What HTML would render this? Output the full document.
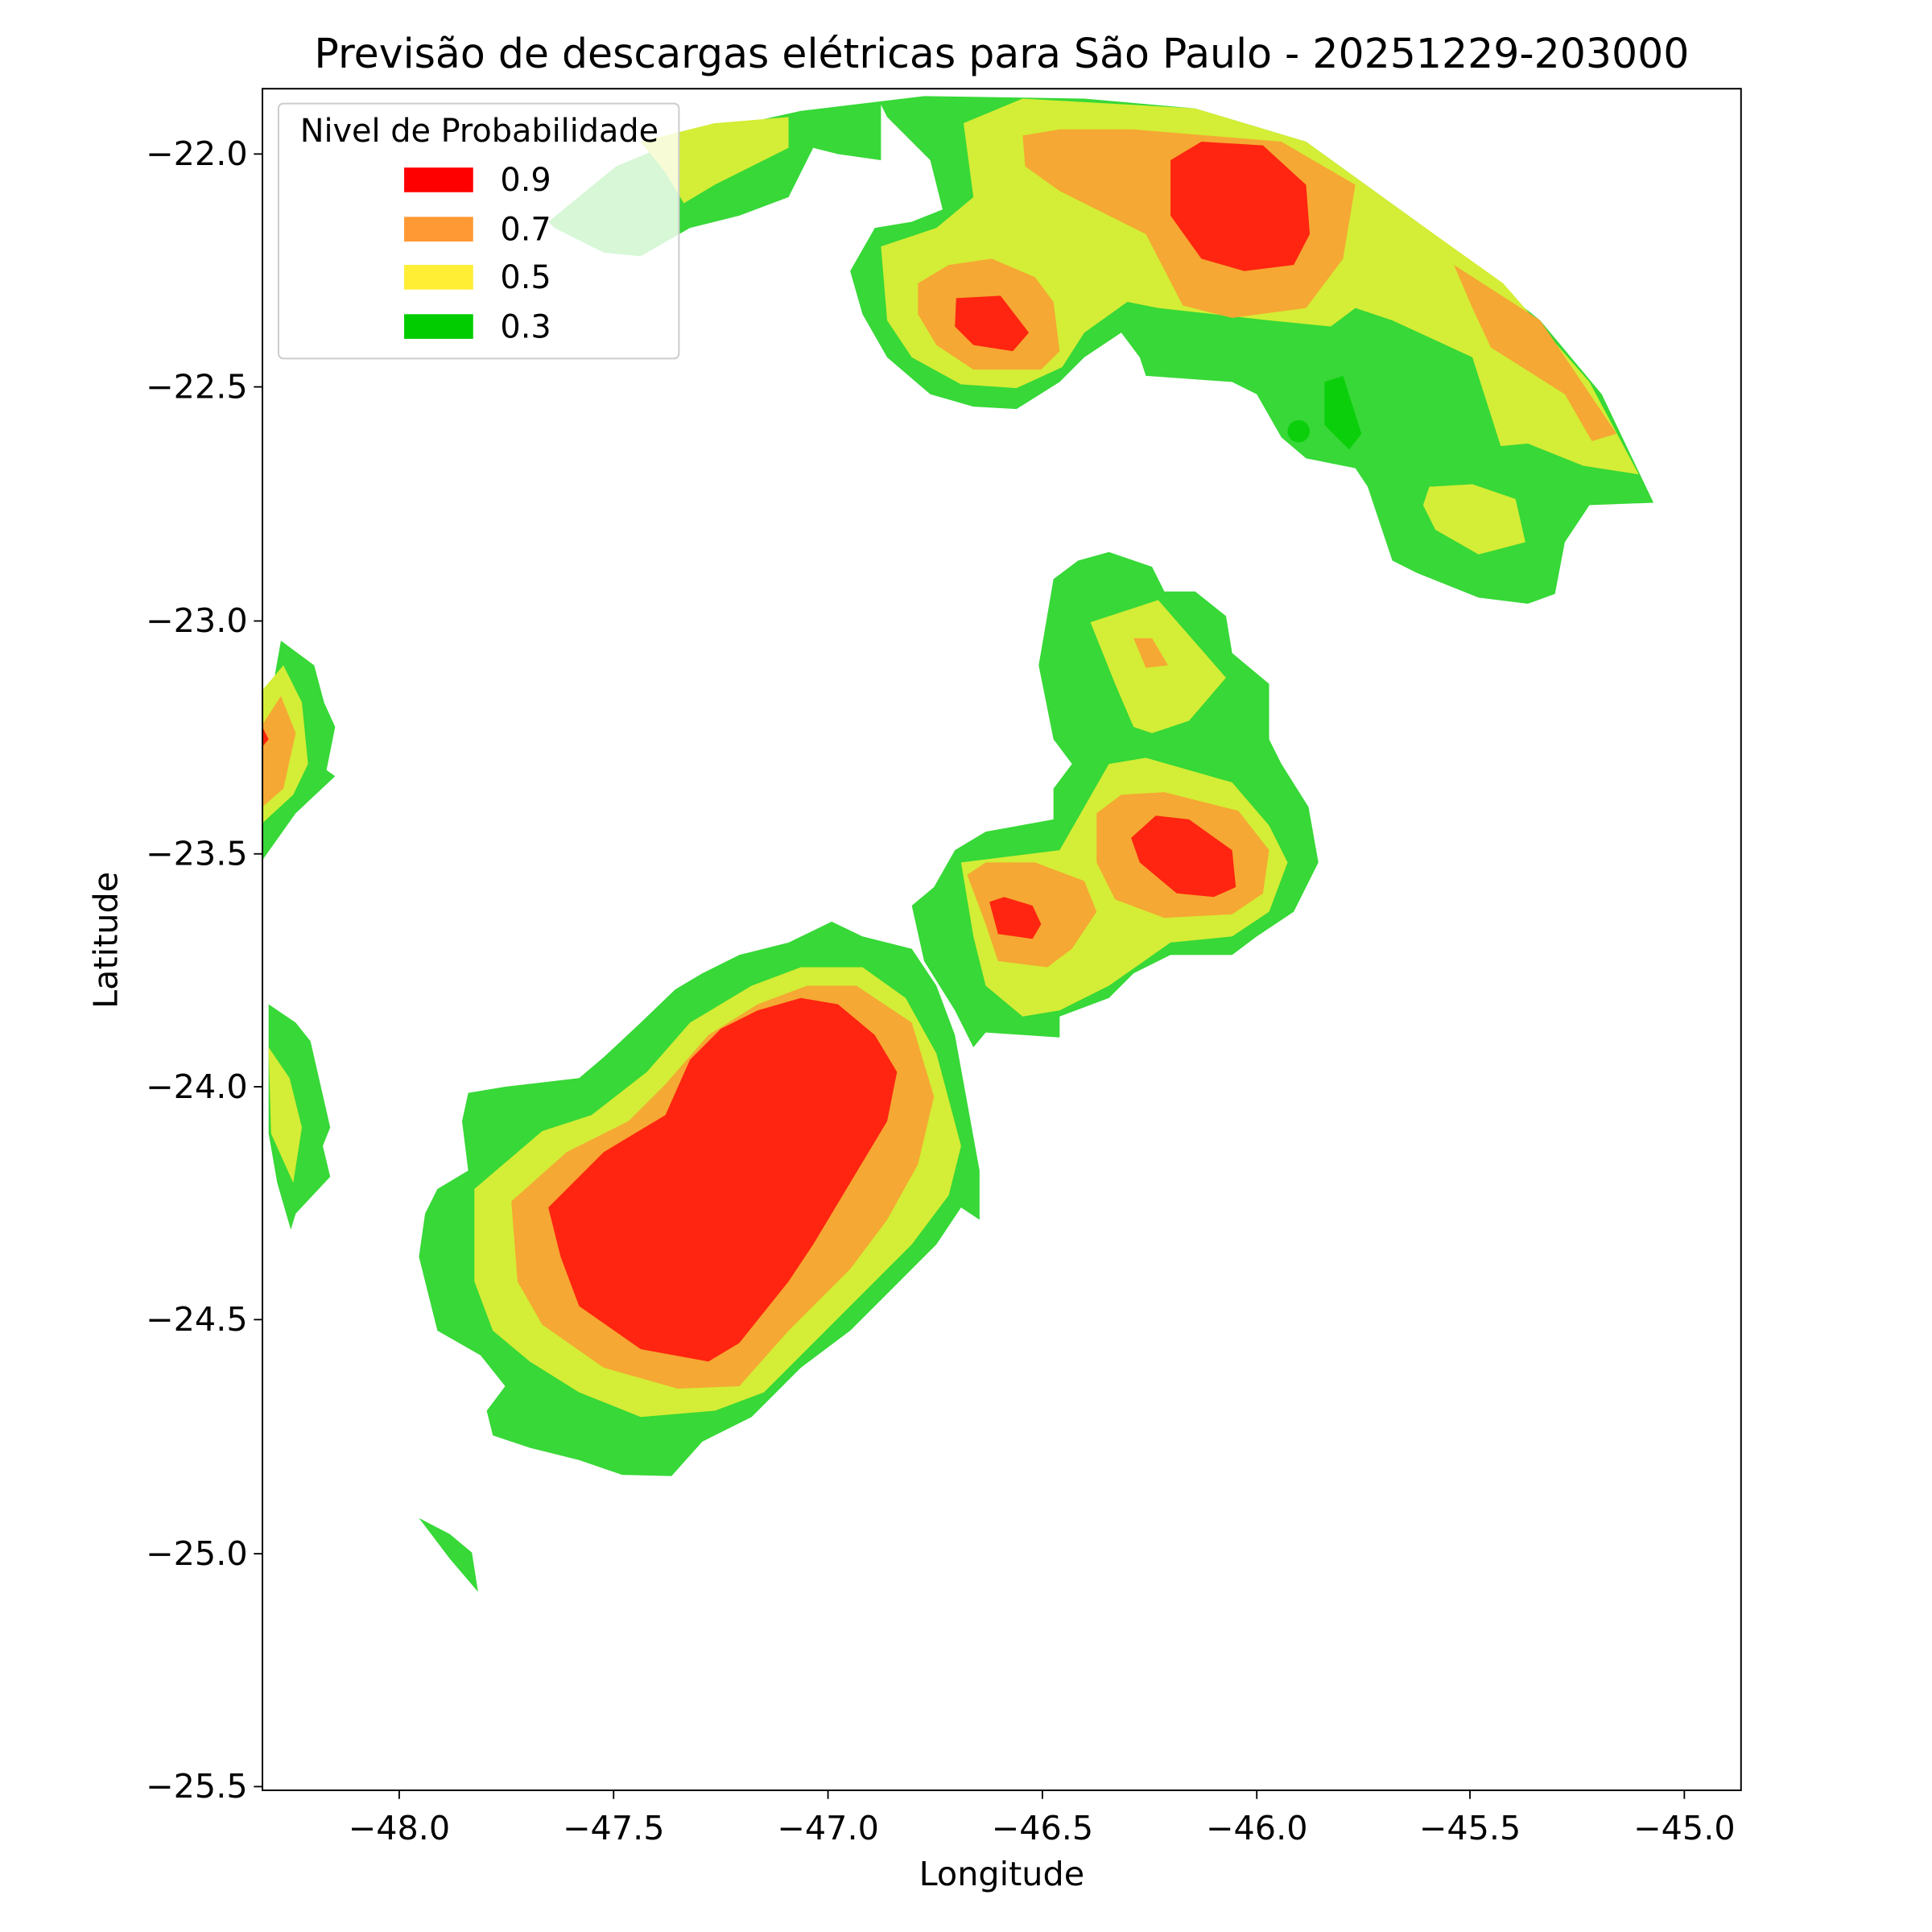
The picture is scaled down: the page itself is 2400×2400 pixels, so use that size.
<!DOCTYPE html>
<html><head><meta charset="utf-8"><style>html,body{margin:0;padding:0;background:#fff}svg{display:block}</style></head>
<body>
<svg xmlns="http://www.w3.org/2000/svg" width="2400" height="2400" viewBox="0 0 1568 1568" font-family="'DejaVu Sans','Liberation Sans',sans-serif">
<rect width="1568" height="1568" fill="#fff"/>
<defs><clipPath id="ax"><rect x="213" y="72" width="1200" height="1381"/></clipPath></defs>
<g clip-path="url(#ax)" stroke="none">
<polygon fill="#37d837" points="445,180 500,135 560,110 650,90 750,78 880,80 970,88 1060,115 1150,180 1250,260 1300,320 1342,408 1290,410 1270,440 1262,482 1240,490 1200,485 1150,465 1130,455 1110,395 1100,380 1060,372 1040,355 1020,320 1000,310 930,305 925,290 910,270 880,290 860,310 825,332 790,330 755,320 720,290 700,255 690,220 710,185 740,180 765,170 755,130 720,95 715,85 715,130 680,125 660,120 640,160 600,175 560,185 520,208 490,205 450,185"/>
<polygon fill="#d4ed36" points="715,200 760,185 790,160 782,100 830,80 970,88 1060,115 1150,180 1220,230 1290,310 1330,385 1285,378 1240,360 1218,362 1195,290 1130,260 1100,250 1080,265 1030,260 985,255 940,250 915,245 880,270 862,298 825,315 780,312 740,290 720,260"/>
<polygon fill="#d4ed36" points="520,115 580,100 640,95 640,120 610,135 580,150 555,165 540,140"/>
<polygon fill="#f5a833" points="830,110 860,105 920,105 1040,115 1100,150 1090,210 1060,250 1000,258 960,248 930,190 860,155 832,135"/>
<polygon fill="#ff2510" points="950,130 975,115 1025,118 1060,150 1063,190 1050,215 1010,220 975,210 950,175"/>
<polygon fill="#f5a833" points="1180,215 1250,260 1312,352 1292,358 1270,320 1210,282 1195,250"/>
<polygon fill="#f5a833" points="745,230 770,215 805,210 840,225 855,245 860,285 845,300 790,300 760,280 745,255"/>
<polygon fill="#ff2510" points="776,242 812,240 835,270 822,285 790,280 775,265"/>
<polygon fill="#0ccf0c" points="1075,310 1090,305 1105,352 1095,365 1075,345"/>
<circle cx="1054" cy="350" r="9" fill="#0ccf0c"/>
<polygon fill="#d4ed36" points="1160,395 1195,393 1230,405 1238,440 1200,450 1165,430 1155,410"/>
<polygon fill="#37d837" points="775,690 800,675 855,665 855,640 870,620 855,600 843,540 855,470 875,455 900,448 935,460 945,480 970,480 995,500 1000,530 1030,555 1030,600 1040,620 1062,655 1070,700 1050,740 1020,760 1000,775 950,775 920,790 900,810 860,825 860,842 800,838 790,850 775,820 750,780 740,735 758,720"/>
<polygon fill="#d4ed36" points="885,505 940,487 995,550 965,585 935,595 920,590 905,555"/>
<polygon fill="#f5a833" points="920,518 935,518 948,540 930,542"/>
<polygon fill="#d4ed36" points="860,690 900,620 930,615 1000,635 1030,670 1045,700 1030,740 1000,760 950,765 900,800 860,820 830,825 800,800 790,760 780,700"/>
<polygon fill="#f5a833" points="890,660 910,645 945,643 1005,658 1030,690 1025,725 1000,742 945,745 905,730 890,700"/>
<polygon fill="#ff2510" points="918,680 938,662 965,665 1000,690 1003,720 985,728 955,725 925,700"/>
<polygon fill="#f5a833" points="785,710 800,700 840,700 880,715 890,740 870,770 850,785 810,780 800,750"/>
<polygon fill="#ff2510" points="803,732 815,728 838,735 845,750 838,762 810,758"/>
<polygon fill="#37d837" points="380,887 410,882 470,875 490,858 520,830 548,803 570,790 600,775 640,765 675,748 700,760 740,770 760,800 775,840 795,950 795,990 780,980 760,1010 730,1040 690,1080 650,1110 610,1150 570,1170 545,1198 505,1197 470,1185 430,1175 400,1165 395,1145 410,1125 390,1100 355,1080 340,1020 345,985 355,965 380,950 375,910"/>
<polygon fill="#d4ed36" points="385,965 440,918 480,905 525,870 560,830 610,800 650,785 700,785 735,810 760,855 780,930 770,970 740,1010 700,1050 660,1090 620,1130 580,1145 520,1150 470,1130 430,1105 400,1080 385,1040"/>
<polygon fill="#f5a833" points="415,975 460,935 510,910 540,880 575,840 615,815 655,800 695,800 740,830 758,890 745,945 720,990 690,1030 640,1080 600,1125 550,1127 490,1110 440,1075 420,1040"/>
<polygon fill="#ff2510" points="445,980 490,935 540,905 560,860 585,835 615,820 650,810 680,815 710,840 728,870 720,910 690,960 660,1010 640,1040 600,1090 575,1105 520,1095 470,1060 455,1020"/>
<polygon fill="#37d837" points="213,605 228,520 255,540 263,570 272,590 265,625 272,630 240,660 213,698"/>
<polygon fill="#d4ed36" points="213,560 230,540 245,570 250,620 238,645 213,668"/>
<polygon fill="#f5a833" points="213,588 228,565 240,595 230,640 213,655"/>
<polygon fill="#ff2510" points="213,590 218,600 213,606"/>
<polygon fill="#37d837" points="218,815 240,830 252,845 268,915 262,930 268,955 240,985 236,998 225,960 218,920"/>
<polygon fill="#d4ed36" points="218,850 235,875 245,915 238,960 220,920"/>
<polygon fill="#37d837" points="340,1232 365,1245 383,1260 388,1292 365,1265"/>
</g>
<rect x="213" y="72" width="1200" height="1381" fill="none" stroke="#000" stroke-width="1.3"/>
<rect x="226" y="84" width="325" height="207" rx="4" fill="#fff" fill-opacity="0.8" stroke="#ccc" stroke-width="1.3"/>
<text x="389" y="115" font-size="26" text-anchor="middle">Nivel de Probabilidade</text>
<rect x="328" y="136" width="56" height="20" fill="#ff0000"/>
<rect x="328" y="176" width="56" height="20" fill="#ff9933"/>
<rect x="328" y="215" width="56" height="20" fill="#ffee33"/>
<rect x="328" y="255" width="56" height="20" fill="#00cc00"/>
<g font-size="26"><text x="406" y="155">0.9</text><text x="406" y="195">0.7</text><text x="406" y="234">0.5</text><text x="406" y="274">0.3</text></g>
<g stroke="#000" stroke-width="1.2">
<line x1="324" y1="1453" x2="324" y2="1460"/><line x1="498" y1="1453" x2="498" y2="1460"/><line x1="672" y1="1453" x2="672" y2="1460"/><line x1="846" y1="1453" x2="846" y2="1460"/><line x1="1020" y1="1453" x2="1020" y2="1460"/><line x1="1193" y1="1453" x2="1193" y2="1460"/><line x1="1367" y1="1453" x2="1367" y2="1460"/>
<line x1="206" y1="125" x2="213" y2="125"/><line x1="206" y1="314" x2="213" y2="314"/><line x1="206" y1="504" x2="213" y2="504"/><line x1="206" y1="693" x2="213" y2="693"/><line x1="206" y1="882" x2="213" y2="882"/><line x1="206" y1="1071" x2="213" y2="1071"/><line x1="206" y1="1261" x2="213" y2="1261"/><line x1="206" y1="1450" x2="213" y2="1450"/>
</g>
<g font-size="27" text-anchor="middle">
<text x="324" y="1493">−48.0</text><text x="498" y="1493">−47.5</text><text x="672" y="1493">−47.0</text><text x="846" y="1493">−46.5</text><text x="1020" y="1493">−46.0</text><text x="1193" y="1493">−45.5</text><text x="1367" y="1493">−45.0</text>
</g>
<g font-size="27" text-anchor="end">
<text x="201" y="134">−22.0</text><text x="201" y="323">−22.5</text><text x="201" y="513">−23.0</text><text x="201" y="702">−23.5</text><text x="201" y="891">−24.0</text><text x="201" y="1080">−24.5</text><text x="201" y="1270">−25.0</text><text x="201" y="1459">−25.5</text>
</g>
<text x="813" y="1530" font-size="27" text-anchor="middle">Longitude</text>
<text transform="translate(95,763) rotate(-90)" font-size="27" text-anchor="middle">Latitude</text>
<text x="813" y="55" font-size="33" text-anchor="middle">Previsão de descargas elétricas para São Paulo - 20251229-203000</text>
</svg>
</body></html>
